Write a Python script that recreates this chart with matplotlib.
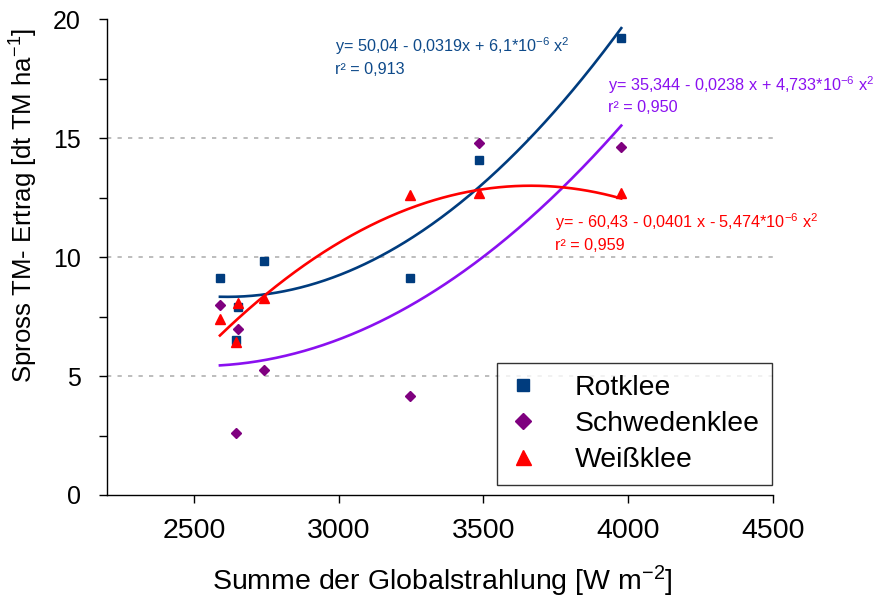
import numpy as np
import matplotlib
matplotlib.use("Agg")
import matplotlib.pyplot as plt

plt.rcParams['font.family'] = ['Liberation Sans', 'DejaVu Sans']
plt.rcParams['mathtext.fontset'] = 'custom'
plt.rcParams['mathtext.rm'] = 'Liberation Sans'
plt.rcParams['mathtext.it'] = 'Liberation Sans'
plt.rcParams['mathtext.bf'] = 'Liberation Sans:bold'

# Summe der Globalstrahlung [W m-2] and shoot dry matter yield per clover species
radiation_rot = [2590, 2645, 2652, 2741, 3245, 3486, 3976]
yield_rot = [9.12, 6.51, 7.90, 9.83, 9.12, 14.08, 19.24]

radiation_schw = [2590, 2645, 2652, 2741, 3245, 3486, 3976]
yield_schw = [7.98, 2.60, 7.00, 5.25, 4.16, 14.79, 14.62]

radiation_weiss = [2590, 2645, 2652, 2741, 3245, 3486, 3976]
yield_weiss = [7.39, 6.43, 8.07, 8.30, 12.60, 12.70, 12.70]

# quadratic trend coefficients (x^2, x, const)
coef_rot = [6.1e-6, -0.0319, 50.04]
coef_schw = [4.733e-6, -0.0238, 35.344]
coef_weiss = [-5.474e-6, 0.0401, -60.43]

eq_rot = [r"y= 50,04 - 0,0319x + 6,1*10$^{-6}$ x$^{2}$", "r² = 0,913"]
eq_schw = [r"y= 35,344 - 0,0238 x + 4,733*10$^{-6}$ x$^{2}$", "r² = 0,950"]
eq_weiss = [r"y= - 60,43 - 0,0401 x - 5,474*10$^{-6}$ x$^{2}$", "r² = 0,959"]

series_names = ["Rotklee", "Schwedenklee", "Weißklee"]
x_ticks = [2500, 3000, 3500, 4000, 4500]
y_ticks = [0, 5, 10, 15, 20]

c_rot = '#003C7E'
c_schw_pt = '#7F007F'
c_schw_line = '#8A10F0'
c_weiss = '#FF0000'

W, H = 875, 603
fig = plt.figure(figsize=(W / 100, H / 100), dpi=100)
ax = fig.add_axes([107 / W, 1 - 495 / H, (773 - 107) / W, (495 - 19.5) / H])

ax.set_xlim(2200, 4500)
ax.set_ylim(0, 20)

for v in y_ticks[1:]:
    ax.axhline(v, color='#BDBDBD', lw=1.4, ls=(0, (2.2, 3.2)), zorder=0)

ax.plot(radiation_rot, yield_rot, ls='none', marker='s', ms=6, color=c_rot,
        zorder=2, label=series_names[0])
ax.plot(radiation_schw, yield_schw, ls='none', marker='D', ms=5.6, color=c_schw_pt,
        zorder=2, label=series_names[1])
ax.plot(radiation_weiss, yield_weiss, ls='none', marker='^', ms=7.2, color=c_weiss,
        zorder=2, label=series_names[2])

for xs, coef, col in [(radiation_rot, coef_rot, c_rot),
                      (radiation_schw, coef_schw, c_schw_line),
                      (radiation_weiss, coef_weiss, c_weiss)]:
    xx = np.linspace(min(xs), max(xs), 300)
    ax.plot(xx, np.polyval(coef, xx), color=col, lw=1.9, zorder=3)

for side in ['top', 'right']:
    ax.spines[side].set_visible(False)
for side in ['left', 'bottom']:
    ax.spines[side].set_linewidth(1.0)

ax.set_xticks(x_ticks)
ax.set_xticklabels([str(v) for v in x_ticks])
ax.set_yticks(y_ticks)
ax.set_yticklabels([str(v) for v in y_ticks])
ax.set_yticks(np.arange(2.5, 20, 5), minor=True)
ax.tick_params(axis='both', which='both', direction='out', length=5.8, width=1.0,
               colors='black')
ax.tick_params(axis='x', pad=11, labelsize=20.5)
ax.tick_params(axis='y', pad=13, labelsize=18)

fig.text(442 / W, 1 - 581 / H, r"Summe der Globalstrahlung [W m$^{-2}$]",
         ha='center', va='center', fontsize=20.5)
fig.text(24 / W, 1 - 205 / H, r"Spross TM- Ertrag [dt TM ha$^{-1}$]",
         ha='center', va='center', rotation=90, fontsize=18.5)

def eq_text(x, y1, y2, lines, col):
    fig.text(x / W, 1 - y1 / H, lines[0], color=col, fontsize=11.7, va='baseline')
    fig.text(x / W, 1 - y2 / H, lines[1], color=col, fontsize=11.7, va='baseline')

eq_text(335, 52, 74, eq_rot, '#0E4A8A')
eq_text(608, 91, 112, eq_schw, c_schw_line)
eq_text(555, 228, 250, eq_weiss, c_weiss)

leg = ax.legend(loc='lower right', bbox_to_anchor=(772 / W, 1 - 485 / H),
                bbox_transform=fig.transFigure, borderaxespad=0,
                fontsize=20.4, markerscale=1.5, frameon=True, fancybox=False,
                edgecolor='black', borderpad=0.42, handlelength=1.0,
                handletextpad=1.35, labelspacing=0.36)
leg.get_frame().set_linewidth(1.0)

fig.savefig('out.png', dpi=100)
